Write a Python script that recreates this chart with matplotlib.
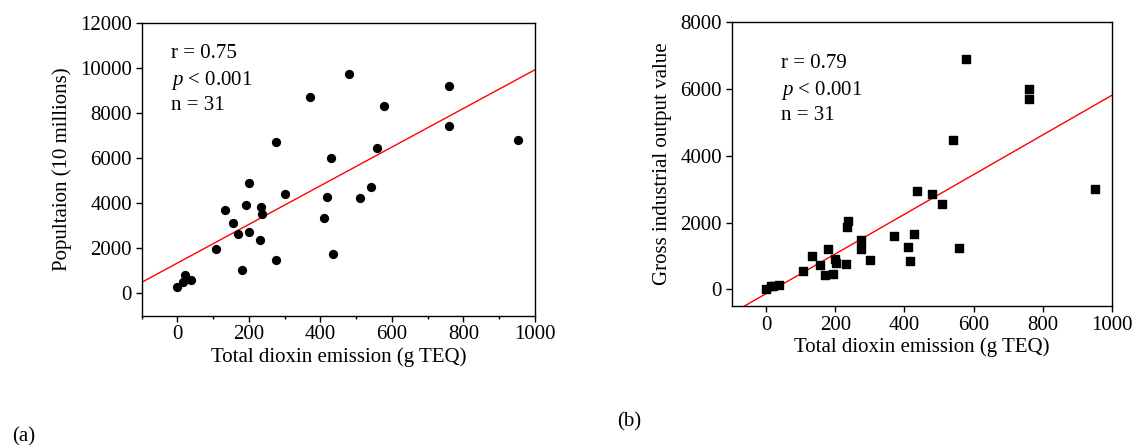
import numpy as np
import matplotlib
matplotlib.use('Agg')
import matplotlib.pyplot as plt
from matplotlib.ticker import MultipleLocator

# данные: выбросы диоксинов по 31 провинции
emission = [0, 15, 21, 37, 107, 133, 155, 169, 180, 192, 199, 201, 232, 235, 237,
            275, 275, 301, 371, 409, 417, 429, 436, 479, 510, 541, 558, 579, 760, 760, 953]
# население (10 млн)
population = [267, 518, 800, 578, 1955, 3703, 3125, 2607, 1022, 3910, 4888, 2696, 2370, 3821, 3510,
              6694, 1496, 4414, 8723, 3333, 4280, 6013, 1733, 9730, 4206, 4710, 6457, 8309, 9183, 7435, 6813]
# валовая промышленная продукция
industry = [0, 100, 100, 140, 550, 990, 730, 440, 1210, 460, 920, 800, 760, 1870, 2050,
            1470, 1210, 870, 1590, 1270, 850, 1670, 2940, 2870, 2550, 4470, 1250, 6890, 6010, 5700, 3000]

# линии регрессии (концы)
fit_x = [-100, 1000]
fit_a = [482, 9924]
fit_b = [-720, 5810]

stats_a = ['r = 0.75', '$p$ < 0.001', 'n = 31']
stats_b = ['r = 0.79', '$p$ < 0.001', 'n = 31']

plt.rcParams['font.family'] = ['Liberation Serif', 'DejaVu Serif']
plt.rcParams['mathtext.fontset'] = 'custom'
plt.rcParams['mathtext.rm'] = 'Liberation Serif'
plt.rcParams['mathtext.it'] = 'Liberation Serif:italic'
plt.rcParams['font.size'] = 15

W, H = 1136, 445
fig = plt.figure(figsize=(W / 100, H / 100), dpi=100)

# (a)
ax1 = fig.add_axes([141.7 / W, 1 - 315.7 / H, 393.3 / W, 292.7 / H])
ax1.scatter(emission, population, s=32, color='black', marker='o', zorder=3)
ax1.plot(fit_x, fit_a, color='red', lw=1)
ax1.set_xlim(-100, 1000)
ax1.set_ylim(-1000, 12000)
ax1.set_xticks(range(0, 1001, 200))
ax1.xaxis.set_minor_locator(MultipleLocator(100))
ax1.set_yticks(range(0, 12001, 2000))
ax1.tick_params(axis='both', which='major', length=4, width=1, pad=3)
ax1.tick_params(axis='x', which='minor', length=2.5, width=1)
ax1.set_xlabel('Total dioxin emission (g TEQ)', labelpad=2)
ax1.set_ylabel('Popultaion (10 millions)', labelpad=6)
ax1.text(170.7 / W, 1 - 44 / H, '\n'.join(stats_a), transform=fig.transFigure,
         va='top', ha='left', linespacing=1.35)

# (b)
ax2 = fig.add_axes([731.7 / W, 1 - 306 / H, 380 / W, 283.7 / H])
ax2.scatter(emission, industry, s=28, color='black', marker='s', zorder=3)
ax2.plot(fit_x, fit_b, color='red', lw=1)
ax2.set_xlim(-100, 1000)
ax2.set_ylim(-500, 8000)
ax2.set_xticks(range(0, 1001, 200))
ax2.set_yticks(range(0, 8001, 2000))
ax2.tick_params(axis='both', which='major', length=4, width=1, pad=3)
ax2.set_xlabel('Total dioxin emission (g TEQ)', labelpad=2)
ax2.set_ylabel('Gross industrial output value', labelpad=6)
ax2.text(780.7 / W, 1 - 54 / H, '\n'.join(stats_b), transform=fig.transFigure,
         va='top', ha='left', linespacing=1.35)

for ax in (ax1, ax2):
    for sp in ax.spines.values():
        sp.set_linewidth(1)

fig.text(12 / W, 1 - 437 / H, '(a)', va='center', ha='left')
fig.text(617 / W, 1 - 422 / H, '(b)', va='center', ha='left')

fig.savefig('out.png', dpi=100)
